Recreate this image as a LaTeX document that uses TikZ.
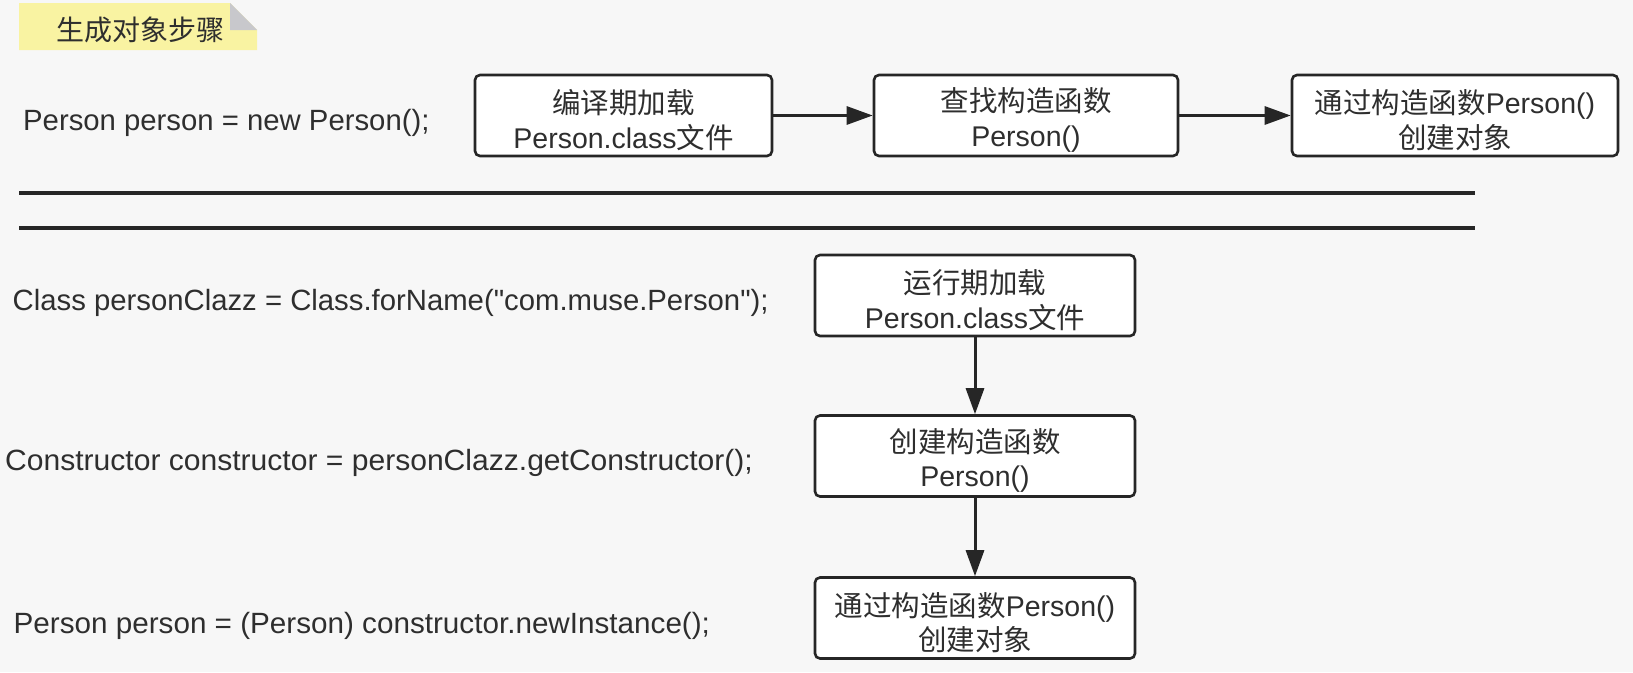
\documentclass[tikz,border=0pt]{standalone}
\usepackage{fontspec}
\usepackage{graphicx}
\setmainfont{Liberation Sans}[Ligatures=TeXOff]
\newfontfamily\cjk{Noto Sans CJK SC}
\usetikzlibrary{arrows.meta}
\definecolor{bgc}{HTML}{F7F7F7}
\definecolor{txt}{HTML}{2E2E2E}
\definecolor{ink}{HTML}{262626}
\definecolor{notey}{HTML}{F9F3A2}
\definecolor{flap}{HTML}{C8C8CC}
\begin{document}
\begin{tikzpicture}[x=1pt,y=-1pt,
  stepbox/.style={draw=ink, line width=2.6pt, rounded corners=5pt, fill=white,
    minimum height=81pt, inner sep=0pt},
  boxtext/.style={inner sep=0pt, align=center, text=txt, yshift=-4.5pt,
    font=\fontsize{28.5}{34.5}\selectfont},
  codetext/.style={anchor=base west, inner sep=0pt, text=txt,
    font=\fontsize{29.3}{34}\selectfont},
  conn/.style={draw=ink, line width=3pt, -{Triangle[length=26pt,width=18pt]}},
  sepline/.style={draw=ink, line width=3.5pt}]
\fill[bgc] (0,0) rectangle (1633,672);
\useasboundingbox (0,0) rectangle (1633,672);
% title note
\fill[notey] (19,3) -- (230,3) -- (257,30) -- (257,50) -- (19,50) -- cycle;
\fill[flap] (230,3) -- (257,30) -- (230,30) -- cycle;
\node[anchor=center, inner sep=0pt, text=txt, font=\cjk\fontsize{28}{32}\selectfont] (title) at (140,30) {生成对象步骤};
% first part
\node[codetext] (t1) at (23,130.3) {Person person = new Person();};
\node[stepbox, minimum width=297pt] (a) at (623.5,115.5) {};
\node[stepbox, minimum width=304pt] (b) at (1026,115.5) {};
\node[stepbox, minimum width=326pt] (c) at (1455,115.5) {};
\node[boxtext] (aT) at (a.center) {{\cjk 编译期加载}\\Person.class{\cjk 文件}};
\node[boxtext] (bT) at (b.center) {{\cjk 查找构造函数}\\Person()};
\node[boxtext] (cT) at (c.center) {{\cjk 通过构造函数}Person()\\{\cjk 创建对象}};
\draw[conn] (a) -- (b);
\draw[conn] (b) -- (c);
% separators
\coordinate (l1a) at (19,193);
\coordinate (l1b) at (1475,193);
\coordinate (l2a) at (19,228);
\coordinate (l2b) at (1475,228);
\draw[sepline] (l1a) -- (l1b);
\draw[sepline] (l2a) -- (l2b);
% second part
\node[codetext] (t2) at (12.5,310.5) {Class personClazz = Class.forName("com.muse.Person");};
\node[codetext] (t3) at (5,470) {\scalebox{1.026}[1]{Constructor constructor = personClazz.getConstructor();}};
\node[codetext] (t4) at (13.5,633.3) {\scalebox{1.012}[1]{Person person = (Person) constructor.newInstance();}};
\node[stepbox, minimum width=320pt] (d) at (975,295.5) {};
\node[stepbox, minimum width=320pt] (e) at (975,456) {};
\node[stepbox, minimum width=320pt] (f) at (975,618) {};
\node[boxtext] (dT) at (d.center) {{\cjk 运行期加载}\\Person.class{\cjk 文件}};
\node[boxtext] (eT) at (e.center) {{\cjk 创建构造函数}\\Person()};
\node[boxtext] (fT) at (f.center) {{\cjk 通过构造函数}Person()\\{\cjk 创建对象}};
\draw[conn] (d) -- (e);
\draw[conn] (e) -- (f);
\end{tikzpicture}
\end{document}
